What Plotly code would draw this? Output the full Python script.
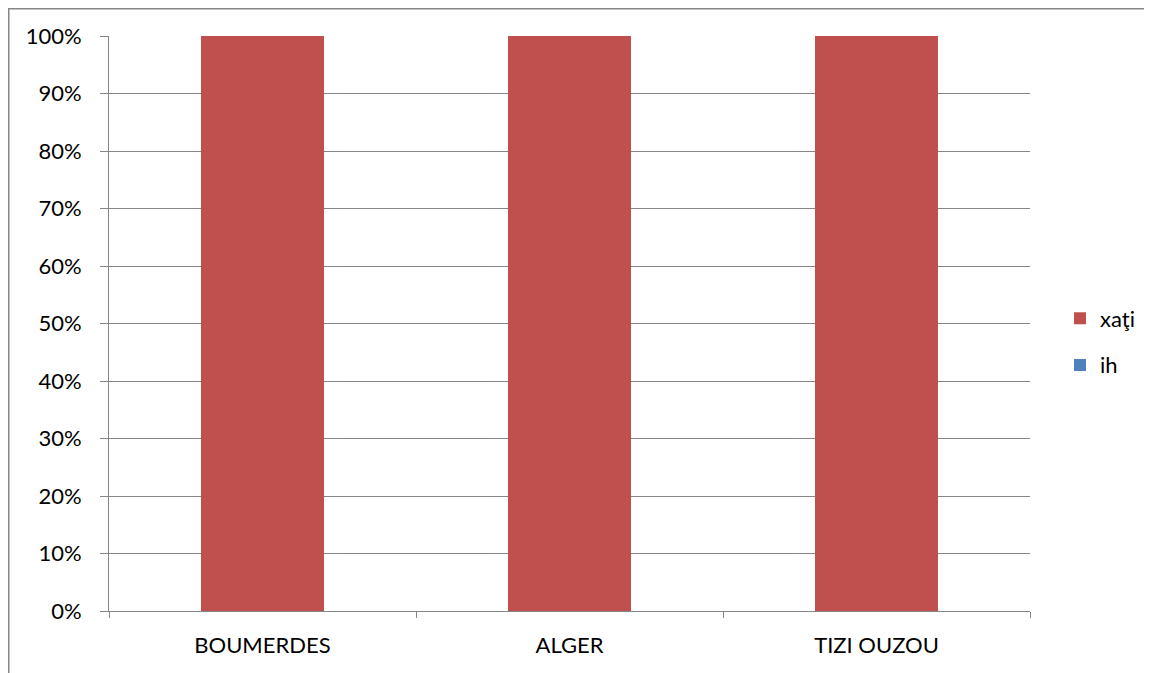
import plotly.graph_objects as go

categories = ["BOUMERDES", "ALGER", "TIZI OUZOU"]
xati_values = [1.0, 1.0, 1.0]
ih_values = [0.0, 0.0, 0.0]
series_names = ["xaţi", "ih"]
y_ticks = [i / 10 for i in range(11)]

# page has an 8px body margin; figure coordinates below are page coords - 8
W, H = 1144, 665
L, R, T, B = 101, 1022, 28, 603

fig = go.Figure()
x_idx = list(range(len(categories)))
fig.add_trace(go.Bar(x=x_idx, y=xati_values, name=series_names[0], legendgroup="a",
                     marker=dict(color="#C0504D", line=dict(width=0)), width=0.4))
fig.add_trace(go.Bar(x=x_idx, y=ih_values, name=series_names[1], legendgroup="b",
                     marker=dict(color="#4F81BD", line=dict(width=0)), width=0.4))
# invisible trace on secondary axis to carry the category-boundary ticks
fig.add_trace(go.Scatter(x=[-0.5, 2.5], y=[0, 0], xaxis="x2", mode="none",
                         showlegend=False, hoverinfo="skip"))

font = "Lato, 'Open Sans', sans-serif"
px = lambda x: (x - L) / (R - L)
py = lambda y: (B - y) / (B - T)
fig.update_layout(
    width=W, height=H,
    margin=dict(l=L, r=W - R, t=T, b=H - B),
    barmode="stack",
    plot_bgcolor="white", paper_bgcolor="white",
    font=dict(family=font, size=22, color="black"),
    showlegend=True,
    legend=dict(x=px(1052), y=py(334),
                xanchor="left", yanchor="middle",
                traceorder="grouped", font=dict(size=22), itemwidth=30,
                tracegroupgap=15, bgcolor="rgba(0,0,0,0)"),
    xaxis=dict(range=[-0.5, 2.5], tickvals=x_idx, ticktext=categories,
               showgrid=False, zeroline=False, showline=True,
               linecolor="#868686", linewidth=1,
               ticks="outside", ticklen=15, tickcolor="rgba(0,0,0,0)"),
    xaxis2=dict(range=[-0.5, 2.5], overlaying="x", side="bottom",
                tickvals=[-0.5, 0.5, 1.5, 2.5], showticklabels=False,
                ticks="outside", ticklen=6, tickcolor="#868686", tickwidth=1,
                showgrid=False, zeroline=False, showline=False),
    yaxis=dict(range=[0, 1], tickvals=y_ticks, tickformat=".0%",
               showgrid=True, gridcolor="#868686", gridwidth=1,
               zeroline=False, showline=True, linecolor="#868686", linewidth=1,
               ticks="outside", ticklen=8, tickcolor="#868686",
               ticklabelstandoff=14),
    shapes=[
        dict(type="line", xref="paper", yref="paper",
             x0=px(0.75), x1=px(0.75), y0=py(0), y1=py(H),
             line=dict(color="#868686", width=1.5), layer="below"),
        dict(type="line", xref="paper", yref="paper",
             x0=px(0), x1=px(W), y0=py(0.75), y1=py(0.75),
             line=dict(color="#868686", width=1.5), layer="below"),
    ],
)
fig.write_html("out.html")
